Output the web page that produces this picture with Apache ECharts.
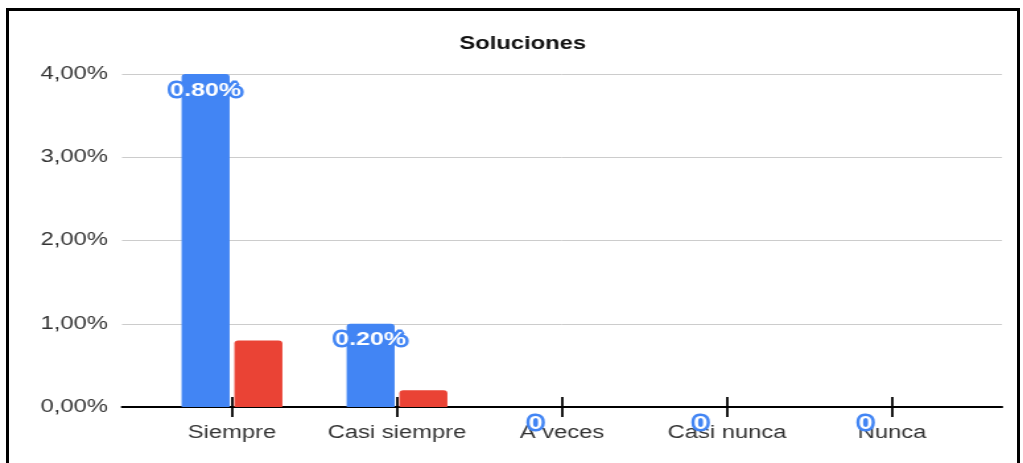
<!DOCTYPE html>
<html>
<head>
<meta charset="utf-8">
<script src="https://cdn.jsdelivr.net/npm/echarts@6/dist/echarts.min.js"></script>
<style>
    body{margin:0;background:#fff;overflow:hidden;}
    #frame{position:absolute;left:6px;top:8px;width:1008px;height:500px;border:3px solid #000;}
    #main{position:absolute;left:0;top:0;width:775px;height:463px;transform:scaleX(1.32);transform-origin:0 0;}
</style>
</head>
<body>
<div id="frame"></div>
<div id="main"></div>
<script>
var categories=["Siempre","Casi siempre","A veces","Casi nunca","Nunca"];
var blueValues=[4,1,0,0,0];
var redValues=[0.8,0.2,0,0,0];
var blueLabels=["0.80%","0.20%","0","0","0"];
var yTicks=[0,1,2,3,4];

// the picture is stretched sideways, so the chart is drawn narrow and scaled
var S=1.32;
function px(x){return x/S;}

var myChart=echarts.init(document.getElementById('main'));

var option={
    animation:false,
    title:{
        text:'Soluciones',
        left:px(516),
        top:30,
        textAlign:'center',
        textStyle:{fontFamily:'Liberation Sans, Arial',fontSize:18,fontWeight:'bold',color:'#111'}
    },
    grid:[
        {left:px(122),right:775-px(1002),top:74,bottom:463-407},
        {left:px(149.5),right:775-px(974.5),top:74,bottom:463-407}
    ],
    xAxis:[
        {
            gridIndex:0,type:'value',min:0,max:1,
            axisLine:{show:true,lineStyle:{color:'#000',width:2}},
            axisTick:{show:false},axisLabel:{show:false},splitLine:{show:false}
        },
        {
            gridIndex:1,type:'category',data:categories,offset:-10,
            axisLine:{show:false},
            axisTick:{show:true,interval:0,alignWithLabel:true,length:20,lineStyle:{color:'#000',width:1.8}},
            axisLabel:{interval:0,hideOverlap:false,margin:27,color:'#333',fontSize:18,fontFamily:'Liberation Sans, Arial'}
        }
    ],
    yAxis:[
        {
            gridIndex:0,type:'value',min:yTicks[0],max:yTicks[yTicks.length-1],interval:1,
            axisLine:{show:false},axisTick:{show:false},
            splitLine:{lineStyle:{color:'#ccc',width:1}},
            axisLabel:{
                margin:px(14),color:'#333',fontSize:18,fontFamily:'Liberation Sans, Arial',
                formatter:function(v){return v.toFixed(2).replace('.',',')+'%';}
            }
        },
        {
            gridIndex:1,type:'value',min:0,max:4,show:false
        }
    ],
    series:[
        {
            type:'bar',xAxisIndex:1,yAxisIndex:1,
            data:blueValues,
            barWidth:px(48),barGap:'10%',
            itemStyle:{color:'#4285f4',borderRadius:[3,3,0,0]},
            label:{
                show:true,position:'insideTop',distance:7,
                formatter:function(p){return blueLabels[p.dataIndex];},
                color:'#fff',fontSize:19,fontWeight:'bold',fontFamily:'Liberation Sans, Arial',
                textBorderColor:'#4285f4',textBorderWidth:5
            }
        },
        {
            type:'bar',xAxisIndex:1,yAxisIndex:1,
            data:redValues,
            barWidth:px(48),
            itemStyle:{color:'#ea4335',borderRadius:[3,3,0,0]}
        }
    ]
};

myChart.setOption(option);
</script>
</body>
</html>
